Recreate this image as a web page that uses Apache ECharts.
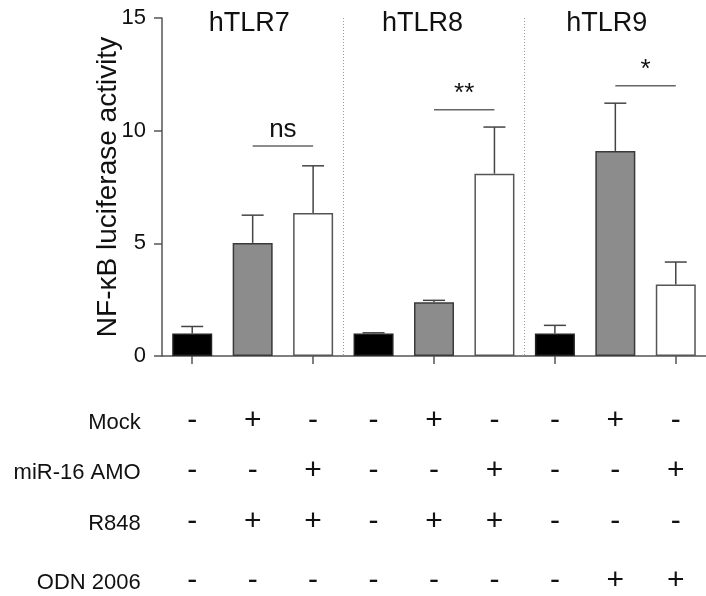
<!DOCTYPE html>
<html><head><meta charset="utf-8">
<script src="https://cdn.jsdelivr.net/npm/echarts@6/dist/echarts.min.js"></script>
<style>html,body{margin:0;padding:0;background:#fff}#c{width:706px;height:596px}</style>
</head><body><div id="c"></div>
<script>
// ---- data ----
const groups = ['hTLR7', 'hTLR8', 'hTLR9'];
const categories = ['TLR7 ctrl', 'TLR7 Mock', 'TLR7 AMO', 'TLR8 ctrl', 'TLR8 Mock', 'TLR8 AMO', 'TLR9 ctrl', 'TLR9 Mock', 'TLR9 AMO'];
const meanValues = [1.0, 5.02, 6.35, 1.0, 2.38, 8.09, 1.0, 9.10, 3.17];
const errValues  = [0.31, 1.23, 2.09, 0.03, 0.09, 2.07, 0.36, 2.12, 1.00];
const yTicks = [0, 5, 10, 15];
const sigFrom   = [1, 4, 7];
const sigTo     = [2, 5, 8];
const sigHeight = [9.32, 10.93, 11.99];
const sigLabels = ['ns', '**', '*'];
const rowLabels = ['Mock', 'miR-16 AMO', 'R848', 'ODN 2006'];
const mockRow = ['-', '+', '-', '-', '+', '-', '-', '+', '-'];
const amoRow  = ['-', '-', '+', '-', '-', '+', '-', '-', '+'];
const r848Row = ['-', '+', '+', '-', '+', '+', '-', '-', '-'];
const odnRow  = ['-', '-', '-', '-', '-', '-', '-', '+', '+'];
const tableRows = [mockRow, amoRow, r848Row, odnRow];

// ---- styles / layout ----
const FONT = '"Liberation Sans", Arial, Helvetica, sans-serif';
const fillColors = ['#000000', '#8c8c8c', '#ffffff'];
const borderColors = ['#222222', '#3a3a3a', '#555555'];
const axisColor = '#555555';
const textColor = '#111111';
const rowOffsets = [67, 116.5, 168, 227];   // px below baseline (layout)
const titleDx = [-3.5, -11.5, -8.5];        // px nudges of group titles (layout)

const chart = echarts.init(document.getElementById('c'), null, {renderer: 'canvas'});

const cells = [];
tableRows.forEach((row, r) => row.forEach((s, c) => cells.push([c, r])));

const option = {
  animation: false,
  textStyle: {fontFamily: FONT},
  grid: {left: 162, right: -5, top: 18, bottom: 240, containLabel: false},
  xAxis: {
    type: 'category',
    data: categories,
    boundaryGap: true,
    axisLine: {show: true, lineStyle: {color: axisColor, width: 1.5}},
    axisTick: {show: true, alignWithLabel: true, length: 8, lineStyle: {color: axisColor, width: 1.5}},
    axisLabel: {show: false},
    splitLine: {
      show: true,
      interval: function (i) { return i === 3 || i === 6; },
      lineStyle: {color: '#9a9a9a', width: 1, type: [1, 2]}
    }
  },
  yAxis: {
    type: 'value',
    min: yTicks[0], max: yTicks[yTicks.length - 1], interval: 5,
    name: 'NF-\u03baB luciferase activity',
    nameLocation: 'middle',
    nameGap: 40,
    nameMoveOverlap: false,
    nameTextStyle: {fontSize: 28, color: textColor, fontFamily: FONT},
    axisLine: {show: true, lineStyle: {color: axisColor, width: 1.5}},
    axisTick: {show: true, length: 8, lineStyle: {color: axisColor, width: 1.5}},
    axisLabel: {fontSize: 22, color: textColor, margin: 16, fontFamily: FONT},
    splitLine: {show: false}
  },
  series: [
    {
      type: 'bar',
      barWidth: 40,
      data: meanValues.map((v, i) => ({
        value: v,
        itemStyle: {color: fillColors[i % 3], borderColor: borderColors[i % 3], borderWidth: 1.5}
      })),
      z: 2
    },
    {
      type: 'custom',
      clip: false,
      z: 3,
      data: meanValues.map((m, i) => [i, m, m + errValues[i]]),
      encode: {x: 0, y: [1, 2]},
      renderItem: function (params, api) {
        const x = api.value(0);
        const p0 = api.coord([x, api.value(1)]);
        const p1 = api.coord([x, api.value(2)]);
        const hw = 11;
        const st = {stroke: '#444', lineWidth: 1.5};
        return {type: 'group', children: [
          {type: 'line', shape: {x1: p0[0], y1: p0[1], x2: p1[0], y2: p1[1]}, style: st},
          {type: 'line', shape: {x1: p1[0] - hw, y1: p1[1], x2: p1[0] + hw, y2: p1[1]}, style: st}
        ]};
      }
    },
    {
      type: 'custom',
      clip: false,
      z: 3,
      data: sigFrom.map((f, i) => [f, sigTo[i], sigHeight[i]]),
      encode: {x: [0, 1], y: 2},
      renderItem: function (params, api) {
        const p0 = api.coord([api.value(0), api.value(2)]);
        const p1 = api.coord([api.value(1), api.value(2)]);
        return {type: 'group', children: [
          {type: 'line', shape: {x1: p0[0], y1: p0[1], x2: p1[0], y2: p1[1]}, style: {stroke: '#666', lineWidth: 1.5}},
          {type: 'text', x: (p0[0] + p1[0]) / 2, y: p0[1] - 3,
            style: {text: sigLabels[params.dataIndex], fill: textColor, fontSize: 26, fontFamily: FONT, align: 'center', verticalAlign: 'bottom'}}
        ]};
      }
    },
    {
      type: 'custom',
      clip: false,
      z: 3,
      data: groups.map((g, i) => [i * 3 + 1, yTicks[yTicks.length - 1]]),
      renderItem: function (params, api) {
        const p = api.coord([api.value(0), api.value(1)]);
        return {type: 'text', x: p[0] + titleDx[params.dataIndex], y: p[1] + 5.5,
          style: {text: groups[params.dataIndex], fill: textColor, fontSize: 27, fontFamily: FONT, align: 'center', verticalAlign: 'middle'}};
      }
    },
    {
      type: 'custom',
      clip: false,
      z: 3,
      data: rowLabels.map((l, r) => [0, r]),
      encode: {x: 0},
      renderItem: function (params, api) {
        const p = api.coord([0, 0]);
        const r = params.dataIndex;
        return {type: 'text', x: p[0] - 51.5, y: p[1] + rowOffsets[r],
          style: {text: rowLabels[r], fill: textColor, fontSize: 22, fontFamily: FONT, align: 'right', verticalAlign: 'middle'}};
      }
    },
    {
      type: 'custom',
      clip: false,
      z: 3,
      data: cells,
      encode: {x: 0},
      renderItem: function (params, api) {
        const c = cells[params.dataIndex][0];
        const r = cells[params.dataIndex][1];
        const p = api.coord([c, 0]);
        return {type: 'text', x: p[0], y: p[1] + rowOffsets[r] - 2,
          style: {text: tableRows[r][c], fill: textColor, fontSize: 30, fontFamily: FONT, align: 'center', verticalAlign: 'middle'}};
      }
    }
  ]
};
chart.setOption(option);
</script>
</body></html>
